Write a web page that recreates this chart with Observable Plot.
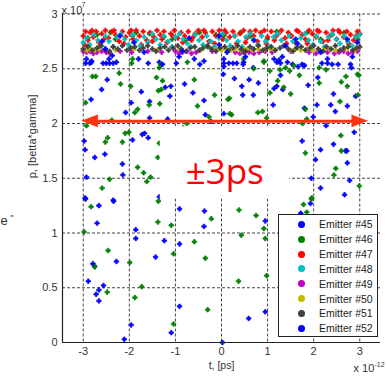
<!DOCTYPE html>
<html>
<head>
<meta charset="utf-8">
<script src="https://cdn.jsdelivr.net/npm/d3@7"></script>
<script src="https://cdn.jsdelivr.net/npm/@observablehq/plot@0.6"></script>
<style>
  html, body { margin: 0; padding: 0; background: #fff; }
  #wrap { position: relative; width: 387px; height: 377px; font-family: "Liberation Sans", Arial, sans-serif; }
  #legend { position: absolute; left: 278px; top: 214px; width: 98px; height: 121px; border: 1px solid #222; background: #fff; }
  .row { position: absolute; left: 0; height: 14px; line-height: 14px; font-size: 10.5px; color: #222; white-space: nowrap; }
  .mk { position: absolute; left: 19px; top: 3.5px; width: 7px; height: 7px; border-radius: 50%; }
  .lb { position: absolute; left: 40px; top: 0; }
</style>
</head>
<body>
<div id="wrap"></div>
<script>
// Axis ticks (t in ps = x 10^-12 s, p in units of 10^7)
const xTicks = [-3, -2, -1, 0, 1, 2, 3];
const xTickLabels = ["-3", "-2", "-1", "0", "1", "2", "3"];
const yTicks = [0, 0.5, 1, 1.5, 2, 2.5, 3];
const yTickLabels = ["0", "0.5", "1", "1.5", "2", "2.5", "3"];
const xDomain = [-3.45, 3.45];
const yDomain = [0, 3];

const emitterNames = ["Emitter #45", "Emitter #46", "Emitter #47", "Emitter #48", "Emitter #49", "Emitter #50", "Emitter #51", "Emitter #52"];
const emitterColors = ["#0000ff", "#008000", "#ff0000", "#00bfbf", "#bf00bf", "#bfbf00", "#404040", "#0000ff"];

// [t, p] pairs
const e45 = [
[-2.95,2.55],[-2.86,2.55],[-2.82,2.56],[-2.57,2.55],[-2.5,2.55],[-2.43,2.55],[-2.35,2.55],[-2.28,2.56],[-1.59,2.55],[-1.35,2.56],[-0.47,2.54],[0.05,2.55],[0.16,2.55],[0.25,2.55],[0.33,2.55],[0.47,2.54],[0.69,2.51],[1.2,2.56],[1.28,2.55],[1.43,2.56],[1.54,2.54],[1.66,2.52],[1.78,2.53],[1.8,2.53],[2.18,2.55],[2.3,2.55],[2.4,2.54],[2.53,2.54],[2.8,2.54],[2.82,2.51],[0.05,2.52],
[-2.48,2.40],[-2.6,2.31],[-2.83,2.22],[-2.08,2.10],[-1.96,2.19],[-1.74,2.29],[-1.56,2.20],[-1.56,2.05],[-1.22,2.33],[-1.12,2.25],[-1.10,2.34],[-1.17,2.04],[-0.80,2.36],[-0.62,2.28],[-0.38,2.21],[-0.35,2.08],[-0.23,2.02],[-2.98,1.84],[-2.96,1.76],[-2.75,1.69],[-2.53,1.72],[-2.15,1.63],[-2.14,1.53],[-1.93,1.85],[-1.72,1.90],[-1.67,1.91],[-1.59,1.87],[-2.93,1.51],[-2.96,1.32],[-2.35,1.30],[-1.35,1.33],
[0.04,2.45],[0.28,2.41],[0.44,2.34],[0.46,2.26],[0.6,2.40],[0.69,2.26],[0.8,2.37],[0.05,2.09],[1.12,2.17],[1.14,2.32],[1.2,2.34],[1.28,2.44],[1.33,2.31],[1.88,2.35],[1.8,2.14],[2.07,2.17],[1.99,2.06],[2.09,2.42],[2.43,2.27],[2.37,2.17],[2.47,2.11],[2.73,2.16],[2.91,2.25],[2.27,1.98],[2.88,1.92],[1.75,1.84],[2.15,1.76],[2.43,1.81],[2.69,1.75],[2.72,1.75],[2.04,1.67],[2.73,1.64],[1.95,1.50],[2.15,1.41],[2.78,1.48],[2.67,1.35],[0.82,1.94],
[-2.95,1.31],[-2.66,1.25],[-2.34,1.29],[-2.70,1.09],[-1.86,1.03],[-1.86,0.95],[-0.91,1.22],[-0.37,1.20],[-0.38,1.06],[-1.24,0.93],[-0.91,0.90],[-1.43,0.78],[-2.28,0.74],[-2.79,0.72],[-2.76,0.70],[-2.89,0.56],[-2.56,0.52],[-2.66,0.48],[-2.72,0.44],[-2.66,0.38],[-1.96,0.16],[-2.11,0.03],[-1.09,0.09],[-0.91,0.33],
[0.95,1.11],[1.72,1.18],[1.93,1.27],[0.95,0.28],[0.59,0.22],[0.02,0.00]
];
const e46 = [
[-2.8,2.43],[-2.73,2.43],[-2.95,2.19],[-2.19,2.36],[-2.22,2.46],[-1.95,2.55],[-1.97,2.34],[-1.88,2.10],[-1.82,2.13],[-1.37,2.30],[-1.31,2.31],[-1.34,2.18],[-1.57,2.17],[-1.28,2.39],[-1.41,2.42],[-1.35,2.51],[-1.32,2.54],[-0.74,2.56],[-0.59,2.40],[-0.52,2.16],[-0.15,2.26],[-0.27,2.06],[-2.38,2.03],[-2.93,1.98],[-2.47,1.87],[-2.52,1.83],[-2.09,1.91],[-2.15,1.83],[-2.01,1.92],[-1.35,1.82],[-1.38,1.69],[-1.82,1.60],[-1.69,1.55],[-1.54,1.51],[-1.62,1.47],[-2.43,1.49],[-2.59,1.41],[-0.83,1.96],[-0.75,2.0],
[0.7,2.50],[0.92,2.56],[1.05,2.48],[1.22,2.39],[1.27,2.49],[1.39,2.51],[1.48,2.48],[1.69,2.44],[1.35,2.33],[1.5,2.27],[1.05,2.28],[0.79,2.10],[0.89,2.11],[0.14,2.22],[0.17,2.23],[0.18,2.09],[0.22,2.08],[0.98,2.05],[1.07,1.95],[1.33,1.95],[1.82,2.13],[1.85,2.04],[1.76,2.00],[2.12,2.37],[2.27,2.49],[2.12,2.51],[2.6,2.38],[2.7,2.43],[2.73,2.34],[2.95,2.45],[2.98,2.44],[2.96,2.26],[2.57,2.20],[2.59,1.89],[2.6,1.75],[1.82,1.73],[2.48,1.59],[2.44,1.53],[2.99,1.43],[1.96,1.32],
[-2.83,1.24],[-1.37,1.29],[-1.38,1.10],[-1.09,1.07],[-2.98,1.01],[-2.46,0.84],[-2.75,0.69],[-1.99,0.73],[-1.04,0.81],[-0.59,0.92],[-0.35,0.77],[-0.22,1.13],[-1.73,0.51],[-2.48,0.46],[-1.88,0.41],[-1.04,0.17],[-0.30,0.30],
[1.95,1.31],[1.78,1.26],[1.85,1.19],[0.38,1.21],[0.75,1.16],[0.92,1.04],[0.43,0.98],[0.95,0.95],[0.98,0.61],[0.37,0.56],
[-2.41,2.83],[-2.3,2.77],[-1.93,2.80],[-1.85,2.83],[-1.56,2.82],[-1.25,2.79],[-1.07,2.77],[-0.78,2.76],[-0.48,2.83],[-0.12,2.81],[-1.93,2.59],[0.05,2.80],[0.41,2.83],[0.63,2.80],[0.99,2.77],[1.5,2.80],[1.86,2.83],[2.15,2.77],[2.66,2.83],[2.95,2.77],[0.48,2.59],[0.92,2.57],[1.57,2.53],[0.48,2.65],[-2.9,2.78],[-2.7,2.81],[-0.3,2.7],[1.2,2.84],[2.4,2.81]
];
const e47 = [
[-3.0,2.80],[-2.95,2.84],[-2.9,2.76],[-2.85,2.83],[-2.78,2.79],[-2.72,2.84],[-2.66,2.74],[-2.6,2.82],[-2.52,2.85],[-2.45,2.78],[-2.38,2.84],[-2.3,2.81],[-2.22,2.75],[-2.15,2.84],[-2.08,2.79],[-2.0,2.83],[-1.92,2.77],[-1.85,2.85],[-1.78,2.80],[-1.7,2.84],[-1.62,2.76],[-1.55,2.83],[-1.47,2.79],[-1.4,2.85],[-1.33,2.81],[-1.25,2.84],[-1.18,2.74],[-1.1,2.82],[-1.02,2.85],[-0.95,2.78],[-0.88,2.83],[-0.8,2.80],[-0.72,2.84],[-0.65,2.76],[-0.57,2.82],[-0.5,2.85],[-0.42,2.79],[-0.35,2.83],[-0.27,2.75],[-0.2,2.84],[-0.12,2.80],[-0.05,2.85],[0.03,2.77],[0.1,2.83],[0.18,2.79],[0.25,2.84],[0.33,2.73],[0.4,2.82],[0.48,2.85],[0.55,2.78],[0.62,2.84],[0.7,2.80],[0.78,2.75],[0.85,2.83],[0.93,2.85],[1.0,2.79],[1.08,2.84],[1.15,2.76],[1.23,2.82],[1.3,2.85],[1.38,2.78],[1.45,2.83],[1.52,2.80],[1.6,2.74],[1.67,2.84],[1.75,2.81],[1.82,2.77],[1.9,2.85],[1.97,2.82],[2.05,2.79],[2.12,2.84],[2.2,2.75],[2.27,2.83],[2.35,2.80],[2.42,2.85],[2.5,2.77],[2.57,2.83],[2.65,2.79],[2.72,2.84],[2.8,2.81],[2.87,2.76],[2.95,2.84],[3.0,2.82],
[-2.97,2.72],[-2.81,2.85],[-2.55,2.77],[-2.33,2.85],[-2.12,2.73],[-1.96,2.85],[-1.74,2.72],[-1.5,2.75],[-1.29,2.77],[-1.06,2.80],[-0.84,2.74],[-0.61,2.79],[-0.38,2.85],[-0.15,2.73],[0.07,2.85],[0.29,2.80],[0.52,2.74],[0.74,2.85],[0.97,2.73],[1.19,2.80],[1.41,2.73],[1.63,2.85],[1.86,2.73],[2.08,2.85],[2.31,2.76],[2.54,2.85],[2.76,2.73],[2.92,2.80]
];
const e48 = [
[-3.0,2.74],[-2.93,2.78],[-2.86,2.72],[-2.77,2.81],[-2.68,2.76],[-2.6,2.71],[-2.52,2.80],[-2.44,2.75],[-2.35,2.70],[-2.27,2.79],[-2.18,2.82],[-2.1,2.77],[-2.02,2.72],[-1.93,2.81],[-1.85,2.76],[-1.76,2.71],[-1.68,2.79],[-1.6,2.74],[-1.5,2.82],[-1.42,2.77],[-1.33,2.72],[-1.25,2.80],[-1.16,2.75],[-1.08,2.70],[-1.0,2.79],[-0.91,2.82],[-0.83,2.77],[-0.74,2.73],[-0.66,2.70],[-0.57,2.81],[-0.49,2.76],[-0.4,2.72],[-0.32,2.80],[-0.23,2.75],[-0.15,2.70],[-0.06,2.78],[0.02,2.82],[0.11,2.76],[0.19,2.71],[0.28,2.80],[0.36,2.75],[0.45,2.70],[0.53,2.79],[0.62,2.82],[0.7,2.77],[0.79,2.72],[0.87,2.80],[0.96,2.75],[1.04,2.70],[1.13,2.79],[1.21,2.82],[1.3,2.76],[1.38,2.71],[1.47,2.80],[1.55,2.75],[1.64,2.70],[1.72,2.78],[1.81,2.82],[1.89,2.76],[1.98,2.72],[2.06,2.80],[2.15,2.75],[2.23,2.70],[2.32,2.79],[2.4,2.82],[2.49,2.77],[2.57,2.73],[2.66,2.80],[2.74,2.75],[2.83,2.71],[2.91,2.79],[3.0,2.81]
];
const e49 = [
[-3.0,2.66],[-2.93,2.65],[-2.85,2.66],[-2.78,2.64],[-2.7,2.65],[-2.6,2.66],[-2.5,2.65],[-2.42,2.64],[-2.2,2.66],[-1.95,2.65],[-1.6,2.66],[-1.3,2.65],[-1.0,2.66],[-0.92,2.64],[-0.85,2.65],[-0.75,2.66],[-0.65,2.64],[-0.55,2.65],[-0.2,2.66],[0.3,2.65],[0.4,2.64],[0.5,2.66],[0.6,2.65],[0.7,2.64],[0.82,2.65],[0.95,2.66],[1.1,2.65],[1.5,2.66],[1.9,2.65],[2.05,2.64],[2.15,2.66],[2.3,2.65],[2.45,2.64],[2.55,2.65],[2.65,2.66],[2.75,2.64],[2.85,2.65],[2.95,2.66]
];
const e50 = [
[-3.0,2.68],[-2.92,2.67],[-2.84,2.68],[-2.75,2.67],[-2.66,2.68],[-2.3,2.67],[-1.9,2.68],[-1.4,2.67],[-0.9,2.68],[-0.45,2.67],[-0.1,2.68],[0.0,2.67],[0.1,2.68],[0.2,2.67],[0.3,2.68],[0.42,2.67],[0.55,2.68],[0.68,2.67],[0.8,2.68],[0.92,2.67],[1.05,2.68],[1.15,2.67],[1.5,2.67],[1.6,2.68],[1.72,2.67],[1.85,2.68],[1.98,2.67],[2.1,2.68],[2.22,2.67],[2.35,2.68],[2.48,2.67],[2.7,2.68],[2.9,2.67]
];
const e51 = [
[-3.0,2.68],[-2.9,2.70],[-2.8,2.67],[-2.7,2.69],[-2.62,2.71],[-2.52,2.68],[-2.43,2.66],[-2.35,2.70],[-2.25,2.68],[-2.15,2.71],[-2.05,2.67],[-1.97,2.69],[-1.88,2.70],[-1.78,2.67],[-1.7,2.69],[-1.6,2.71],[-1.5,2.68],[-1.42,2.66],[-1.33,2.69],[-1.23,2.70],[-1.15,2.67],[-1.05,2.69],[-0.95,2.71],[-0.87,2.68],[-0.77,2.66],[-0.68,2.69],[-0.58,2.70],[-0.48,2.67],[-0.4,2.69],[-0.3,2.71],[-0.22,2.68],[-0.12,2.66],[-0.03,2.69],[0.07,2.70],[0.15,2.67],[0.25,2.69],[0.35,2.71],[0.43,2.68],[0.52,2.66],[0.62,2.70],[0.7,2.68],[0.8,2.71],[0.9,2.67],[0.98,2.69],[1.08,2.70],[1.17,2.67],[1.27,2.69],[1.35,2.71],[1.45,2.68],[1.55,2.66],[1.63,2.69],[1.73,2.70],[1.82,2.67],[1.92,2.69],[2.0,2.71],[2.1,2.68],[2.2,2.66],[2.28,2.70],[2.38,2.68],[2.47,2.71],[2.57,2.67],[2.65,2.69],[2.75,2.70],[2.85,2.67],[2.93,2.69],[3.0,2.70]
];
const e52 = [
[-2.93,2.59],[-2.82,2.57],[-2.59,2.75],[-2.52,2.68],[-2.37,2.62],[-2.44,2.59],[-1.8,2.59],[-1.68,2.65],[-1.28,2.54],[-0.85,2.66],[-0.92,2.61],[-0.98,2.55],[-0.59,2.59],[-0.38,2.57],[-0.05,2.80],[-0.05,2.72],[0.12,2.65],[0.05,2.59],[0.7,2.76],[0.52,2.61],[0.48,2.56],[1.14,2.59],[1.25,2.58],[1.32,2.61],[1.39,2.71],[1.61,2.77],[1.65,2.73],[1.75,2.54],[2.15,2.65],[2.3,2.59],[2.84,2.61],[2.95,2.74],[2.73,2.77],[-1.9,2.74],[-0.7,2.78],[-2.2,2.8]
];
const emitterData = [e45, e46, e47, e48, e49, e50, e51, e52];

// Annotation: "±3ps" double arrow and boxed label
const arrowY = 2.02;
const arrowEnds = [-3.03, 3.19];
const arrowHeadLength = 0.36;
const arrowHeadHalf = 0.058;
const arrowColor = "#ff3312";
const labelText = "±3ps";
const labelBox = {x1: -1.33, x2: 1.48, y1: 1.31, y2: 1.97};
const labelPos = {x: 0.07, y: 1.55};

const leftHead = [
  {x: arrowEnds[0], y1: arrowY, y2: arrowY},
  {x: arrowEnds[0] + arrowHeadLength, y1: arrowY - arrowHeadHalf, y2: arrowY + arrowHeadHalf}
];
const rightHead = [
  {x: arrowEnds[1] - arrowHeadLength, y1: arrowY - arrowHeadHalf, y2: arrowY + arrowHeadHalf},
  {x: arrowEnds[1], y1: arrowY, y2: arrowY}
];

const gridStyle = {stroke: "#444", strokeDasharray: "3,2", strokeWidth: 1};

const dotMarks = emitterData.map((data, i) => Plot.dot(data, {
  x: d => d[0], y: d => d[1], symbol: "cross", r: 1.9, fill: emitterColors[i], stroke: emitterColors[i], strokeWidth: 0.7
}));

const chart = Plot.plot({
  width: 387,
  height: 377,
  marginLeft: 62,
  marginRight: 7,
  marginTop: 13.5,
  marginBottom: 35,
  style: {fontFamily: "'Liberation Sans', Arial, sans-serif", fontSize: "11px", color: "#333", background: "#fff", overflow: "visible"},
  x: {domain: xDomain, ticks: xTicks, tickFormat: d => xTickLabels[xTicks.indexOf(d)], tickSize: 0, tickPadding: 5, label: null},
  y: {domain: yDomain, ticks: yTicks, tickFormat: d => yTickLabels[yTicks.indexOf(d)], tickSize: 0, tickPadding: 5, label: null},
  marks: [
    Plot.ruleX(xTicks, gridStyle),
    Plot.ruleY(yTicks, gridStyle),
    ...dotMarks,
    Plot.ruleX([xDomain[0]], {stroke: "#222", strokeWidth: 1.2}),
    Plot.ruleY([yDomain[0]], {stroke: "#222", strokeWidth: 1.2}),
    Plot.rect([labelBox], {x1: d => d.x1, x2: d => d.x2, y1: d => d.y1, y2: d => d.y2, fill: "#fff"}),
    Plot.text([labelText], {x: () => labelPos.x, y: () => labelPos.y, text: d => d, fontSize: 35, fill: "#ff0000", fontFamily: "'Open Sans', 'Liberation Sans', sans-serif"}),
    Plot.ruleY([arrowY], {x1: arrowEnds[0] + arrowHeadLength * 0.6, x2: arrowEnds[1] - arrowHeadLength * 0.6, stroke: arrowColor, strokeWidth: 3}),
    Plot.area(leftHead, {x1: "x", y1: "y1", y2: "y2", fill: arrowColor}),
    Plot.area(rightHead, {x1: "x", y1: "y1", y2: "y2", fill: arrowColor}),
    // axis titles and exponent labels
    Plot.text(["p, [betta*gamma]"], {frameAnchor: "left", rotate: -90, dx: -30, fontSize: 11, fill: "#333"}),
    Plot.text(["t, [ps]"], {frameAnchor: "bottom", dy: 26, fontSize: 10.5, fill: "#333"}),
    Plot.text(["x 10"], {frameAnchor: "top-left", textAnchor: "start", dx: -1, dy: -8, fontSize: 11, fill: "#333"}),
    Plot.text(["7"], {frameAnchor: "top-left", textAnchor: "start", dx: 19, dy: -12, fontSize: 7, fill: "#333"}),
    Plot.text(["x 10"], {frameAnchor: "bottom-right", textAnchor: "start", dx: -27, dy: 29, fontSize: 11, fill: "#333"}),
    Plot.text(["-12"], {frameAnchor: "bottom-right", textAnchor: "start", dx: -6, dy: 24, fontSize: 7, fill: "#333"}),
    Plot.text(["e"], {frameAnchor: "left", textAnchor: "start", dx: -62, dy: 43, fontSize: 13, fill: "#333"}),
    Plot.text(["\""], {frameAnchor: "left", textAnchor: "start", dx: -52, dy: 40, fontSize: 9, fill: "#333"})
  ]
});

const wrap = document.getElementById("wrap");
wrap.appendChild(chart);

// Legend (MATLAB-style box inside the axes)
const legend = document.createElement("div");
legend.id = "legend";
emitterNames.forEach((name, i) => {
  const row = document.createElement("div");
  row.className = "row";
  row.style.top = (2.3 + i * 14.85) + "px";
  row.style.width = "98px";
  const mk = document.createElement("span");
  mk.className = "mk";
  mk.style.background = emitterColors[i];
  const lb = document.createElement("span");
  lb.className = "lb";
  lb.textContent = name;
  row.appendChild(mk);
  row.appendChild(lb);
  legend.appendChild(row);
});
wrap.appendChild(legend);
</script>
</body>
</html>
